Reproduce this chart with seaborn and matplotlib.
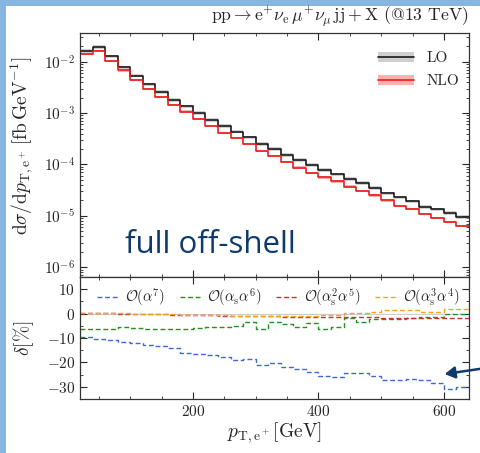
import numpy as np
import pandas as pd
import matplotlib
matplotlib.use("Agg")
import matplotlib.pyplot as plt
import seaborn as sns
from matplotlib.patches import Patch, Rectangle
from matplotlib.lines import Line2D
from matplotlib.ticker import MultipleLocator, LogLocator, NullFormatter

# ---------------- data ----------------
pt_edges = [20, 40, 60, 80, 100, 120, 140, 160, 180, 200, 220, 240, 260, 280, 300, 320,
            340, 360, 380, 400, 420, 440, 460, 480, 500, 520, 540, 560, 580, 600, 620, 640]

lo_xsec = [1.62e-2, 1.91e-2, 1.26e-2, 7.76e-3, 5.37e-3, 3.63e-3, 2.57e-3, 1.78e-3, 1.35e-3,
           1.00e-3, 7.41e-4, 5.62e-4, 4.37e-4, 3.39e-4, 2.51e-4, 2.00e-4, 1.55e-4, 1.23e-4,
           9.77e-5, 7.94e-5, 6.46e-5, 5.25e-5, 4.37e-5, 3.47e-5, 2.75e-5, 2.29e-5, 1.91e-5,
           1.51e-5, 1.35e-5, 1.15e-5, 9.55e-6]
nlo_xsec = [1.41e-2, 1.62e-2, 1.02e-2, 6.76e-3, 4.37e-3, 2.95e-3, 2.04e-3, 1.45e-3, 1.07e-3,
            7.59e-4, 5.62e-4, 4.17e-4, 3.24e-4, 2.51e-4, 1.86e-4, 1.48e-4, 1.12e-4, 8.71e-5,
            6.92e-5, 5.62e-5, 4.68e-5, 3.72e-5, 3.09e-5, 2.51e-5, 2.00e-5, 1.58e-5, 1.35e-5,
            1.10e-5, 9.12e-6, 7.59e-6, 6.46e-6]
lo_unc = 0.08   # relative scale uncertainty band
nlo_unc = 0.05

delta_a7 = [-9.6, -10.3, -10.9, -11.7, -12.0, -12.8, -13.3, -14.2, -16.1, -16.5, -16.9, -17.7,
            -19.0, -18.8, -21.1, -20.1, -22.0, -22.9, -23.8, -25.5, -26.0, -24.4, -24.4, -25.6,
            -27.2, -27.4, -26.9, -27.3, -28.6, -31.0, -29.9]
delta_as_a6 = [-6.3, -6.3, -6.3, -5.5, -6.0, -6.2, -6.2, -6.2, -6.2, -5.9, -5.5, -5.5, -5.2,
               -3.5, -6.3, -3.3, -4.2, -5.6, -3.8, -6.3, -5.6, -1.9, -3.3, -2.2, -2.2, -2.2,
               -1.9, -1.5, -1.5, -0.3, 0.0]
delta_as2_a5 = [0.3, 0.2, 0.1, 0.0, -0.1, -0.2, -0.3, -0.4, -0.5, -0.6, -0.7, -0.8, -0.9,
                -1.0, -1.0, -1.1, -1.2, -1.2, -1.3, -1.3, -1.4, -1.4, -1.5, -1.5, -1.6, -1.6,
                -1.7, -1.7, -1.8, -1.8, -1.8]
delta_as3_a4 = [0.4, 0.3, 0.2, 0.1, 0.0, -0.1, -0.2, -0.3, -0.4, -0.5, -0.6, -0.7, -0.8,
                -1.0, -1.1, -1.1, -1.1, -1.1, -1.0, -0.4, -0.4, 0.3, 0.4, 0.5, 1.5, 1.5, 1.4,
                0.5, 0.5, 1.9, 1.9]

main_labels = ["LO", "NLO"]
ratio_labels = [r"$\mathcal{O}(\alpha^7)$", r"$\mathcal{O}(\alpha_{\rm s}\alpha^6)$",
                r"$\mathcal{O}(\alpha_{\rm s}^2\alpha^5)$", r"$\mathcal{O}(\alpha_{\rm s}^3\alpha^4)$"]

# ---------------- style ----------------
sns.set_style("ticks")
plt.rcParams.update({
    "font.family": ["cmr10", "DejaVu Serif"],
    "mathtext.fontset": "cm",
    "axes.formatter.use_mathtext": True,
    "axes.unicode_minus": False,
    "xtick.direction": "in",
    "ytick.direction": "in",
    "xtick.top": True,
    "ytick.right": True,
    "axes.edgecolor": "#333333",
    "axes.linewidth": 0.9,
})

W, H = 481, 453
fig = plt.figure(figsize=(W / 100, H / 100), dpi=100)
fig.patch.set_facecolor("white")

x0, x1 = 80 / W, 469 / W
ax1 = fig.add_axes([x0, 1 - 277 / H, x1 - x0, (277 - 33) / H])
ax2 = fig.add_axes([x0, 1 - 399 / H, x1 - x0, (399 - 277) / H], sharex=ax1)

# slide border
border = "#86b6e0"
fig.patches.append(Rectangle((0, 0), 6 / W, 1, transform=fig.transFigure,
                             facecolor=border, edgecolor="none", zorder=-1))
fig.patches.append(Rectangle((0, 1 - 6 / H), 1, 6 / H, transform=fig.transFigure,
                             facecolor=border, edgecolor="none", zorder=-1))

edges = np.array(pt_edges, dtype=float)

def ext(v):
    v = list(v)
    return np.array(v + [v[-1]], dtype=float)

lo = ext(lo_xsec)
nlo = ext(nlo_xsec)

# bands
ax1.fill_between(edges, lo * (1 - lo_unc), lo * (1 + lo_unc), step="post",
                 color="#b0b0b0", alpha=0.6, lw=0)
ax1.fill_between(edges, nlo * (1 - nlo_unc), nlo * (1 + nlo_unc), step="post",
                 color="#f27a7a", alpha=0.6, lw=0)

df_main = pd.DataFrame({
    "pt": np.concatenate([edges, edges]),
    "xsec": np.concatenate([lo, nlo]),
    "order": [main_labels[0]] * len(edges) + [main_labels[1]] * len(edges),
})
sns.lineplot(data=df_main, x="pt", y="xsec", hue="order", palette=["#1a1a1a", "#ee1c1c"],
             drawstyle="steps-post", estimator=None, sort=False, lw=1.2, ax=ax1, legend=False)

ax1.set_yscale("log")
ax1.set_ylim(6.5e-7, 3.6e-2)
ax1.set_xlim(20, 640)
ax1.yaxis.set_major_locator(LogLocator(base=10, numticks=20))
ax1.yaxis.set_minor_locator(LogLocator(base=10, subs=np.arange(2, 10), numticks=20))
ax1.yaxis.set_minor_formatter(NullFormatter())
ax1.xaxis.set_major_locator(MultipleLocator(200))
ax1.xaxis.set_minor_locator(MultipleLocator(50))
ax1.tick_params(axis="x", labelbottom=False)
ax1.tick_params(which="major", length=5, width=0.8, labelsize=11)
ax1.tick_params(which="minor", length=2.5, width=0.6)
ax1.set_xlabel("")
ax1.set_ylabel(r"$\mathrm{d}\sigma/\mathrm{d}p_{\mathrm{T,e^+}}\,[\mathrm{fb\,GeV^{-1}}]$", fontsize=14)
ax1.yaxis.set_label_coords(-0.112, 0.54)

handles = [(Patch(facecolor="#b0b0b0", alpha=0.6, lw=0), Line2D([], [], color="#1a1a1a", lw=1.2)),
           (Patch(facecolor="#f27a7a", alpha=0.6, lw=0), Line2D([], [], color="#ee1c1c", lw=1.2))]
ax1.legend(handles, main_labels, loc="upper right", frameon=False, fontsize=11,
           handlelength=2.4, bbox_to_anchor=(1.01, 0.98), labelspacing=0.6)

ax1.text(1.0, 1.015, r"$\mathrm{pp}\rightarrow\mathrm{e}^{+}\nu_{\mathrm{e}}\,\mu^{+}\nu_{\mu}\,\mathrm{jj}+\mathrm{X}$ (@13 TeV)",
         transform=ax1.transAxes, ha="right", va="bottom", fontsize=12.7)

ax1.text((125 - 80) / 389, (277 - 253) / 244, "full off-shell", transform=ax1.transAxes,
         ha="left", va="baseline", fontsize=22.5, color="#0e3b6c", family="Open Sans")

# ratio panel
ax2.axhline(0, color="#cccccc", lw=0.8, zorder=0)
ratio_series = [delta_a7, delta_as_a6, delta_as2_a5, delta_as3_a4]
ratio_colors = ["#3f66dc", "#1e941e", "#c83232", "#f5a41e"]
df_ratio = pd.DataFrame({
    "pt": np.concatenate([edges] * 4),
    "delta": np.concatenate([ext(s) for s in ratio_series]),
    "contrib": sum([[lab] * len(edges) for lab in ratio_labels], []),
})
sns.lineplot(data=df_ratio, x="pt", y="delta", hue="contrib", palette=ratio_colors,
             drawstyle="steps-post", estimator=None, sort=False, lw=1.0, ax=ax2,
             dashes=False, legend=False)
for ln in ax2.get_lines()[1:]:
    ln.set_linestyle((0, (3.5, 2)))

ax2.set_ylim(-35, 15)
ax2.yaxis.set_major_locator(MultipleLocator(10))
ax2.yaxis.set_minor_locator(MultipleLocator(5))
ax2.xaxis.set_major_locator(MultipleLocator(200))
ax2.xaxis.set_minor_locator(MultipleLocator(50))
ax2.tick_params(which="major", length=5, width=0.8, labelsize=11)
ax2.tick_params(which="minor", length=2.5, width=0.6)
ax2.set_xlabel(r"$p_{\mathrm{T,e^+}}[\mathrm{GeV}]$", fontsize=14, labelpad=1)
ax2.set_ylabel(r"$\delta[\%]$", fontsize=14)
ax2.yaxis.set_label_coords(-0.112, 0.5)

rh = [Line2D([], [], color=c, lw=1.0, ls=(0, (3.5, 2))) for c in ratio_colors]
ax2.legend(rh, ratio_labels, loc="upper center", ncol=4, frameon=False, fontsize=10.5,
           handlelength=1.4, columnspacing=1.0, handletextpad=0.5, bbox_to_anchor=(0.51, 1.03))

# arrow
fig.add_artist(matplotlib.patches.FancyArrowPatch(
    (W / W + 0.01, 1 - 368 / H), (442 / W, 1 - 374.5 / H), transform=fig.transFigure,
    arrowstyle="-|>,head_length=6,head_width=3.5", color="#0e3b6c", lw=1.8, mutation_scale=1))

fig.savefig("out.png", dpi=100)
